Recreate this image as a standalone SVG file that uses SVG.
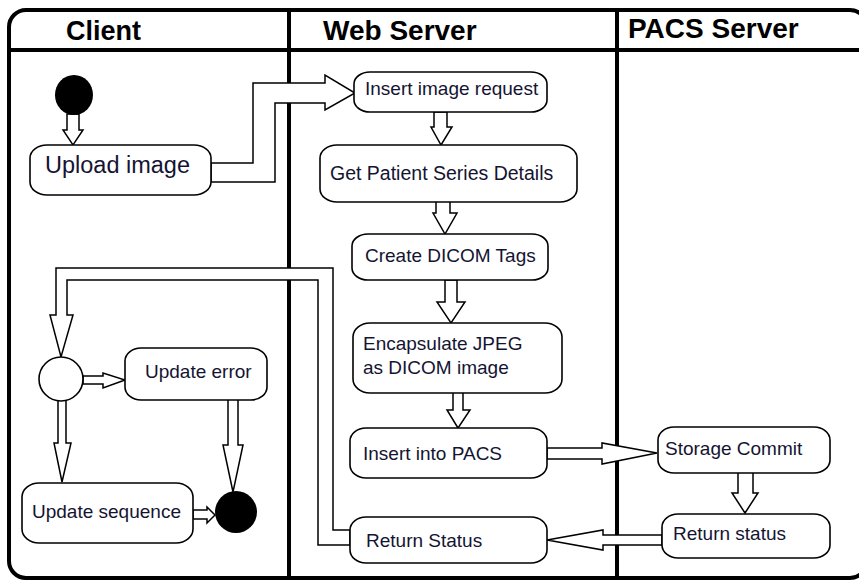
<svg xmlns="http://www.w3.org/2000/svg" width="859" height="580" viewBox="0 0 859 580">
<style>
.lane{fill:none;stroke:#000;stroke-width:4}
.node{fill:#fff;stroke:#000;stroke-width:1.6}
.conn{fill:#fff;stroke:#000;stroke-width:1.5;stroke-linejoin:miter}
.t{font-family:"Liberation Sans",Arial,sans-serif;font-size:19px;fill:#141432}
.h{font-family:"Liberation Sans",Arial,sans-serif;font-size:28px;font-weight:bold;fill:#000}
</style>
<rect x="0" y="0" width="859" height="580" fill="#fff"/>
<g id="swimlanes">
<rect class="lane" x="9" y="10" width="858" height="568" rx="17" ry="17"/>
<line class="lane" x1="9" y1="50" x2="867" y2="50"/>
<line class="lane" x1="289" y1="10" x2="289" y2="580"/>
<line class="lane" x1="617" y1="10" x2="617" y2="580"/>
<text class="h" x="66" y="40" style="font-size:27px">Client</text>
<text class="h" x="323" y="40">Web Server</text>
<text class="h" x="628" y="38">PACS Server</text>
</g>
<g id="connectors">
<polygon class="conn" points="67,114 79,114 79,130 83,130 73,145 63,130 67,130"/>
<polygon class="conn" points="211,163 253,163 253,83 325,83 325,75 355,93 325,110 325,103 275,103 275,182 211,182"/>
<polygon class="conn" points="434,112 447,112 447,127 452,127 441,145 431,127 434,127"/>
<polygon class="conn" points="436,201 450,201 450,213 457,213 445,234 433,213 436,213"/>
<polygon class="conn" points="445,280 457,280 457,302 465,302 451,323 437,302 445,302"/>
<polygon class="conn" points="453,392 463,392 463,410 470,410 458,428 447,410 453,410"/>
<polygon class="conn" points="547,448 602,448 602,443 657,453 602,464 602,459 547,459"/>
<polygon class="conn" points="738,472 753,472 753,493 758,493 745,513 732,493 738,493"/>
<polygon class="conn" points="662,535 603,535 603,530 547,540 603,550 603,545 662,545"/>
<polygon class="conn" points="350,530 333,530 333,268 56,268 56,315 50,315 61,357 73,315 67,315 67,280 318,280 318,545 350,545"/>
<polygon class="conn" points="83,376 103,376 103,373 125,380 103,388 103,384 83,384"/>
<polygon class="conn" points="58,399 66,399 66,443 71,443 62,482 54,443 58,443"/>
<polygon class="conn" points="228,399 238,399 238,445 243,445 233,492 223,445 228,445"/>
<polygon class="conn" points="193,510 207,510 207,507 215,515 207,523 207,519 193,519"/>
</g>
<g id="start"><ellipse cx="74" cy="95" rx="19" ry="20" fill="#000"/></g>
<g id="upload-image"><rect class="node" x="30" y="145" width="181" height="50" rx="17" ry="13"/><text class="t" x="45" y="173" style="font-size:23.5px">Upload image</text></g>
<g id="insert-image-request"><rect class="node" x="354" y="72" width="193" height="40" rx="16" ry="12"/><text class="t" x="365" y="95">Insert image request</text></g>
<g id="get-patient-series"><rect class="node" x="320" y="145" width="257" height="57" rx="17" ry="13"/><text class="t" x="330" y="180" style="font-size:19.5px">Get Patient Series Details</text></g>
<g id="create-dicom-tags"><rect class="node" x="352" y="234" width="196" height="46" rx="16" ry="12"/><text class="t" x="365" y="262">Create DICOM Tags</text></g>
<g id="encapsulate-jpeg"><rect class="node" x="353" y="323" width="209" height="70" rx="17" ry="14"/><text class="t" x="363" y="350">Encapsulate JPEG</text><text class="t" x="363" y="374">as DICOM image</text></g>
<g id="insert-into-pacs"><rect class="node" x="350" y="428" width="197" height="50" rx="16" ry="13"/><text class="t" x="363" y="460">Insert into PACS</text></g>
<g id="return-status-web"><rect class="node" x="350" y="517" width="197" height="46" rx="16" ry="13"/><text class="t" x="366" y="547">Return Status</text></g>
<g id="storage-commit"><rect class="node" x="658" y="427" width="172" height="46" rx="16" ry="13"/><text class="t" x="665" y="455">Storage Commit</text></g>
<g id="return-status-pacs"><rect class="node" x="662" y="514" width="168" height="44" rx="16" ry="13"/><text class="t" x="673" y="540">Return status</text></g>
<g id="decision"><circle class="node" cx="61" cy="379" r="22"/></g>
<g id="update-error"><rect class="node" x="125" y="348" width="142" height="52" rx="16" ry="13"/><text class="t" x="145" y="378">Update error</text></g>
<g id="update-sequence"><rect class="node" x="22" y="483" width="171" height="60" rx="17" ry="14"/><text class="t" x="32" y="518">Update sequence</text></g>
<g id="end"><circle cx="236" cy="512" r="21" fill="#000"/></g>
</svg>
